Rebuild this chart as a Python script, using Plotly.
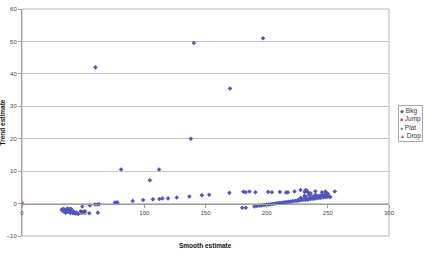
import plotly.graph_objects as go

# ---- data ----
bkg_x = [60, 140.5, 197, 170, 138, 81, 112, 104.5,
         32.5, 33, 34, 34.5, 35, 35.5, 36, 36.5, 37, 37.5, 38, 38.5, 39, 39.5, 40, 40.5,
         41, 41.5, 42, 43, 44, 44.7, 46,
         48, 49, 50.5, 51.5, 49.3, 55.5, 55, 62, 59.7, 61.5, 63, 76, 77.5, 78,
         90.5, 99, 107, 112.3, 114.7, 119.4, 126.5, 136.8, 147, 153,
         169.5, 181, 182.8, 185.9, 190.8, 201.2, 204.3, 210.8, 215.8, 217.4, 222.8, 227.7,
         231, 232, 233, 234, 234.5, 236, 239.8, 245.2, 248, 249, 250, 255.7,
         226, 228, 230, 231, 232, 233.5, 235, 236.5, 238, 239.5, 240, 241, 242.5, 244,
         245, 246, 247.5, 248.5, 250, 251.5, 252,
         180, 183, 190, 192, 194, 195.5, 197, 198.5, 200, 201.5, 203, 204.5, 206, 207.5,
         209, 210.5, 212, 213.5, 215, 216.5, 218, 219.5, 221, 222.5, 224, 225.5, 227,
         228.5, 230, 231.5, 233, 234.5, 236, 237.5, 239, 240.5, 242, 243.5, 245, 246.5,
         248, 249.5, 251]
bkg_y = [42, 49.5, 51, 35.5, 20, 10.5, 10.5, 7.2,
         -1.8, -2.2, -1.6, -2.5, -2.0, -2.8, -1.9, -2.3, -1.5, -2.6, -2.1, -1.7, -2.4, -2.9, -1.6, -2.2,
         -2.7, -3.0, -2.4, -2.9, -3.1, -2.8, -3.2,
         -2.4, -2.6, -2.5, -2.4, -0.9, -0.6, -3.0, -2.8, -0.3, -0.3, -0.2, 0.3, 0.3, 0.35,
         0.8, 1.1, 1.3, 1.4, 1.6, 1.6, 1.9, 2.2, 2.6, 2.7,
         3.3, 3.65, 3.5, 3.7, 3.5, 3.6, 3.5, 3.6, 3.4, 3.5, 3.7, 4.2,
         3.6, 4.2, 3.9, 3.4, 2.8, 3.2, 3.8, 3.5, 3.7, 3.2, 3.0, 3.7,
         1.2, 1.8, 1.5, 2.4, 2.0, 1.2, 2.6, 1.8, 2.2, 1.6, 2.7, 2.0, 2.4, 1.9,
         2.7, 2.3, 2.8, 2.1, 2.5, 2.2, 2.0,
         -1.3, -1.3, -0.9, -0.75, -0.65, -0.6, -0.5, -0.45, -0.35, -0.3, -0.2, -0.15, -0.05, 0.05,
         0.1, 0.2, 0.25, 0.3, 0.4, 0.5, 0.55, 0.6, 0.7, 0.8, 0.85, 0.9, 1.0,
         1.1, 1.15, 1.2, 1.3, 1.4, 1.45, 1.5, 1.6, 1.7, 1.75, 1.8, 1.9, 2.0,
         2.05, 2.1, 2.2]
jump_x = [0]
jump_y = [0]
plat_x = []
plat_y = []
drop_x = []
drop_y = []

series_names = ["Bkg", "Jump", "Plat", "Drop"]
x_ticks = [0, 50, 100, 150, 200, 250, 300]
y_ticks = [-10, 0, 10, 20, 30, 40, 50, 60]

colors = {"Bkg": "#5158BA", "Jump": "#E0407A", "Plat": "#3A7F80", "Drop": "#D0405A"}
font = "Liberation Sans, Arial, sans-serif"

fig = go.Figure()
fig.add_trace(go.Scatter(x=bkg_x, y=bkg_y, mode="markers", name="Bkg",
                         marker=dict(symbol="diamond", size=3.5, color=colors["Bkg"])))
fig.add_trace(go.Scatter(x=jump_x, y=jump_y, mode="markers", name="Jump",
                         marker=dict(symbol="square", size=3.5, color=colors["Jump"])))
fig.add_trace(go.Scatter(x=plat_x, y=plat_y, mode="markers", name="Plat",
                         marker=dict(symbol="circle", size=3.5, color=colors["Plat"])))
fig.add_trace(go.Scatter(x=drop_x, y=drop_y, mode="markers", name="Drop",
                         marker=dict(symbol="triangle-up", size=3.5, color=colors["Drop"])))

fig.update_layout(
    width=424, height=253,
    margin=dict(l=22, r=35, t=6, b=17),
    paper_bgcolor="white", plot_bgcolor="white",
    showlegend=False,
    font=dict(family=font, size=6, color="#444444"),
    xaxis=dict(range=[0, 300], tickvals=x_ticks, showgrid=False, zeroline=False,
               anchor="free", position=10 / 70,
               showline=True, linecolor="#A0A0A0", linewidth=1,
               ticks="outside", ticklen=3, tickcolor="#A0A0A0",
               tickfont=dict(size=6, color="#444444")),
    yaxis=dict(range=[-10, 60], tickvals=y_ticks, showgrid=True, gridcolor="#C4C4C4",
               gridwidth=1, zeroline=False,
               showline=True, linecolor="#A0A0A0", linewidth=1,
               ticks="outside", ticklen=3, tickcolor="#A0A0A0",
               tickfont=dict(size=6, color="#444444")),
)

# plot-area frame
fig.add_shape(type="rect", xref="paper", yref="paper", x0=0, y0=0, x1=1, y1=1,
              line=dict(color="#B4B4B4", width=1), layer="below")

# axis titles
fig.add_annotation(text="<b>Smooth estimate</b>", xref="paper", yref="paper",
                   x=0.5, y=-0.043, showarrow=False, yanchor="middle",
                   font=dict(size=6.5, color="#111111", family=font))
fig.add_annotation(text="<b>Trend estimate</b>", xref="paper", yref="paper",
                   x=-0.052, y=0.5, showarrow=False, textangle=-90, xanchor="center",
                   font=dict(size=6.5, color="#111111", family=font))

# legend box
syms = {"Bkg": "◆", "Jump": "■", "Plat": "●", "Drop": "▲"}
legend_text = "<br>".join(
    f"<span style='color:{colors[n]}; font-size:5px'>{syms[n]}</span> {n}" for n in series_names)
fig.add_annotation(text=legend_text, xref="paper", yref="paper",
                   x=(398 - 22) / 367, y=(236 - 103) / 230, xanchor="left", yanchor="top",
                   showarrow=False, align="left",
                   bordercolor="#AAAAAA", borderwidth=1, borderpad=1, bgcolor="white",
                   font=dict(size=6.5, color="#333333", family=font))

fig.write_html("out.html")
